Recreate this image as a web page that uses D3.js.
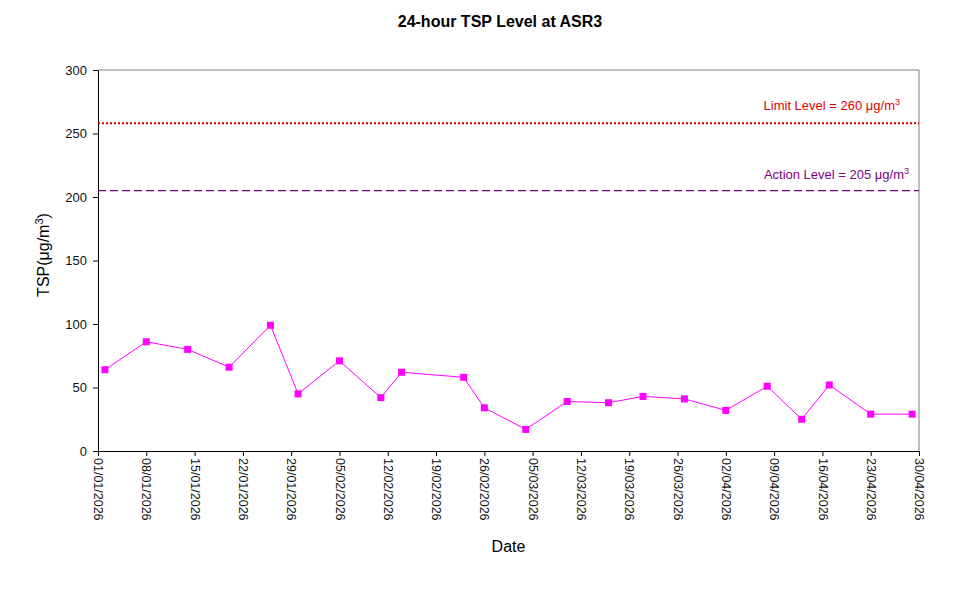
<!DOCTYPE html>
<html>
<head>
<meta charset="utf-8">
<script src="https://cdn.jsdelivr.net/npm/d3@7"></script>
<style>
    body { margin: 0; background: #fff; }
    svg { font-family: Arial, "Liberation Sans", sans-serif; }
</style>
</head>
<body>
<svg id="chart"></svg>
<script>
// sampling dates and 24-hour TSP readings (ug/m3)
const dates = ['02/01/2026', '08/01/2026', '14/01/2026', '20/01/2026', '26/01/2026', '30/01/2026',
    '05/02/2026', '11/02/2026', '14/02/2026', '23/02/2026', '26/02/2026', '04/03/2026',
    '10/03/2026', '16/03/2026', '21/03/2026', '27/03/2026', '02/04/2026', '08/04/2026',
    '13/04/2026', '17/04/2026', '23/04/2026', '29/04/2026'];
const tspValues = [64, 86, 80, 66, 99, 45, 71, 42, 62, 58, 34, 17,
    39, 38, 43, 41, 32, 51, 25, 52, 29, 29];

const tickLabels = ['01/01/2026', '08/01/2026', '15/01/2026', '22/01/2026', '29/01/2026', '05/02/2026',
    '12/02/2026', '19/02/2026', '26/02/2026', '05/03/2026', '12/03/2026', '19/03/2026',
    '26/03/2026', '02/04/2026', '09/04/2026', '16/04/2026', '23/04/2026', '30/04/2026'];
const yTicks = [0, 50, 100, 150, 200, 250, 300];

const limitLevel = 258;   // where the line sits in the picture
const actionLevel = 205;

const parseDate = d3.utcParse('%d/%m/%Y');
const data = dates.map((d, i) => ({ date: parseDate(d), value: tspValues[i] }));

const width = 967, height = 590;
const margin = { top: 70, right: 48, bottom: 139, left: 98 };
const innerW = width - margin.left - margin.right;
const innerH = height - margin.top - margin.bottom;

const svg = d3.select('#chart')
    .attr('width', width)
    .attr('height', height);

const g = svg.append('g')
    .attr('transform', `translate(${margin.left},${margin.top})`);

const xScale = d3.scaleUtc()
    .domain([parseDate(tickLabels[0]), parseDate(tickLabels[tickLabels.length - 1])])
    .range([0, innerW]);

const yScale = d3.scaleLinear()
    .domain([0, 300])
    .range([innerH, 0]);

// frame: grey top & right
g.append('line')
    .attr('x1', 0).attr('x2', innerW).attr('y1', 0).attr('y2', 0)
    .attr('stroke', '#808080');
g.append('line')
    .attr('x1', innerW).attr('x2', innerW).attr('y1', 0).attr('y2', innerH)
    .attr('stroke', '#808080');

// axes
const xAxis = d3.axisBottom(xScale)
    .tickValues(tickLabels.map(parseDate))
    .tickFormat(d3.utcFormat('%d/%m/%Y'))
    .tickSize(5)
    .tickSizeOuter(0);

const yAxis = d3.axisLeft(yScale)
    .tickValues(yTicks)
    .tickSize(5)
    .tickPadding(6)
    .tickSizeOuter(0);

const xAxisG = g.append('g')
    .attr('transform', `translate(0,${innerH})`)
    .call(xAxis);

xAxisG.selectAll('text')
    .attr('transform', 'rotate(90)')
    .attr('x', 7)
    .attr('y', 0)
    .attr('dy', '0.35em')
    .style('text-anchor', 'start')
    .style('font-size', '12.5px')
    .attr('fill', '#111');

const yAxisG = g.append('g').call(yAxis);
yAxisG.selectAll('text').style('font-size', '13px').attr('fill', '#111');

g.selectAll('.domain, .tick line').attr('stroke', '#000');

// reference lines
g.append('line')
    .attr('x1', 0).attr('x2', innerW)
    .attr('y1', yScale(limitLevel)).attr('y2', yScale(limitLevel))
    .attr('stroke', '#d40000')
    .attr('stroke-width', 2)
    .attr('stroke-dasharray', '2,2');

g.append('line')
    .attr('x1', 0).attr('x2', innerW)
    .attr('y1', yScale(actionLevel)).attr('y2', yScale(actionLevel))
    .attr('stroke', '#700070')
    .attr('stroke-width', 1.2)
    .attr('stroke-dasharray', '8,4');

const limitText = g.append('text')
    .attr('x', innerW - 19)
    .attr('y', yScale(limitLevel) - 13)
    .attr('text-anchor', 'end')
    .attr('fill', '#e00000')
    .style('font-size', '13px');
limitText.append('tspan').text('Limit Level  = 260 μg/m');
limitText.append('tspan').attr('dy', -5).style('font-size', '9px').text('3');

const actionText = g.append('text')
    .attr('x', innerW - 10)
    .attr('y', yScale(actionLevel) - 12)
    .attr('text-anchor', 'end')
    .attr('fill', '#800080')
    .style('font-size', '13px');
actionText.append('tspan').text('Action Level  = 205 μg/m');
actionText.append('tspan').attr('dy', -5).style('font-size', '9px').text('3');

// series
const line = d3.line()
    .x(d => xScale(d.date))
    .y(d => yScale(d.value));

g.append('path')
    .datum(data)
    .attr('fill', 'none')
    .attr('stroke', '#ff00ff')
    .attr('stroke-width', 1)
    .attr('d', line);

g.selectAll('.marker')
    .data(data)
    .join('rect')
    .attr('class', 'marker')
    .attr('x', d => xScale(d.date) - 3.5)
    .attr('y', d => yScale(d.value) - 3.5)
    .attr('width', 7)
    .attr('height', 7)
    .attr('fill', '#ff00ff');

// titles
svg.append('text')
    .attr('x', 500)
    .attr('y', 27)
    .attr('text-anchor', 'middle')
    .style('font-size', '16px')
    .style('font-weight', 'bold')
    .text('24-hour TSP Level at ASR3');

svg.append('text')
    .attr('x', margin.left + innerW / 2)
    .attr('y', 552)
    .attr('text-anchor', 'middle')
    .style('font-size', '16px')
    .text('Date');

const yLabel = svg.append('text')
    .attr('transform', `translate(49,255) rotate(-90)`)
    .attr('text-anchor', 'middle')
    .style('font-size', '16px');
yLabel.append('tspan').text('TSP(μg/m');
yLabel.append('tspan').attr('dy', -6).style('font-size', '11px').text('3');
yLabel.append('tspan').attr('dy', 6).text(')');
</script>
</body>
</html>
